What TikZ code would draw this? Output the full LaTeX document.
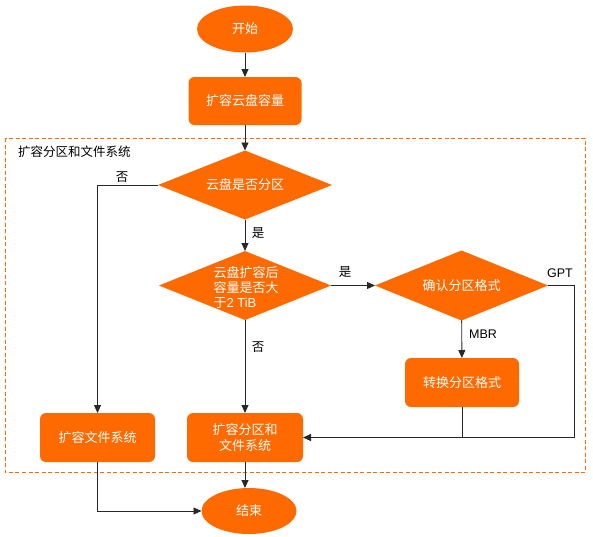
\documentclass[tikz,border=0pt]{standalone}
\usepackage{fontspec}
\setmainfont{Noto Sans CJK SC}
\newfontfamily\latinfont{Liberation Sans}
\usetikzlibrary{arrows.meta,shapes.geometric}
\definecolor{aliorange}{RGB}{255,106,0}
\definecolor{linegray}{RGB}{40,40,40}
\tikzset{
  base/.style={fill=aliorange, text=white, draw=none, outer sep=0pt, inner sep=0pt,
    font=\fontsize{13}{16}\selectfont, align=center},
  term/.style={base, ellipse},
  procbox/.style={base, rectangle, rounded corners=6pt},
  decide/.style={base, diamond},
  dtext/.style={text=white, font=\fontsize{13}{15}\selectfont, inner sep=0pt},
  lbl/.style={text=black, font=\fontsize{12.5}{15}\selectfont, inner sep=0pt},
  arr/.style={draw=linegray, line width=0.9pt, -{Triangle[length=8pt,width=7pt]}},
  ln/.style={draw=linegray, line width=0.9pt},
}
\begin{document}
\begin{tikzpicture}[x=1pt,y=-1pt]
\useasboundingbox (0,0) rectangle (593,536);
% dashed group
\draw[aliorange, line width=0.8pt, dash pattern=on 4pt off 2.5pt] (5,138) rectangle (585,472);
\node[lbl, anchor=west] (grp) at (18,152) {扩容分区和文件系统};

\node[term, minimum width=96pt, minimum height=47pt] (start) at (245,29) {开始};
\node[procbox, minimum width=113pt, minimum height=48pt] (cap) at (245,101) {扩容云盘容量};
\node[decide, minimum width=174pt, minimum height=69pt] (d1) at (245,185) {};
\node[dtext] (d1t) at (d1) {云盘是否分区};
\node[decide, minimum width=172pt, minimum height=69pt] (d2) at (245,285.5) {};
\node[dtext, align=left] (d2t) at (246,287) {云盘扩容后\\容量是否大\\于{\latinfont 2 TiB}};
\node[decide, minimum width=173pt, minimum height=70pt] (d3) at (461.5,285.5) {};
\node[dtext] (d3t) at (d3) {确认分区格式};
\node[procbox, minimum width=114pt, minimum height=49pt] (conv) at (462,382.5) {转换分区格式};
\node[procbox, minimum width=116pt, minimum height=49pt] (pf) at (245,437.5) {扩容分区和\\文件系统};
\node[procbox, minimum width=115pt, minimum height=49pt] (fs) at (97.5,437.5) {扩容文件系统};
\node[term, minimum width=95pt, minimum height=46pt] (end) at (249,511) {结束};

\coordinate (gptc) at (574,437.5);

\draw[arr] (start) -- (cap);
\draw[arr] (cap) -- (d1);
\draw[arr] (d1.west) -| (fs.north);
\draw[arr] (d1) -- (d2);
\draw[arr] (d2.east) -- (d3.west);
\draw[arr] (d2) -- (pf);
\draw[arr] (d3) -- (conv);
\draw[arr] (d3.east) -| (gptc) -- (pf.east);
\draw[ln] (conv.south) -- (conv.south |- pf.east);
\draw[arr] (fs.south) |- (end.west);
\draw[arr] (pf.south) -- (pf.south |- end.north);

\node[lbl] (l1) at (122,177) {否};
\node[lbl] (l2) at (258,233) {是};
\node[lbl] (l3) at (345,272) {是};
\node[lbl] (l4) at (258,347) {否};
\node[lbl, font=\latinfont\fontsize{12.5}{15}\selectfont] (l5) at (560,273) {GPT};
\node[lbl, font=\latinfont\fontsize{12.5}{15}\selectfont] (l6) at (483,334) {MBR};
\end{tikzpicture}
\end{document}
